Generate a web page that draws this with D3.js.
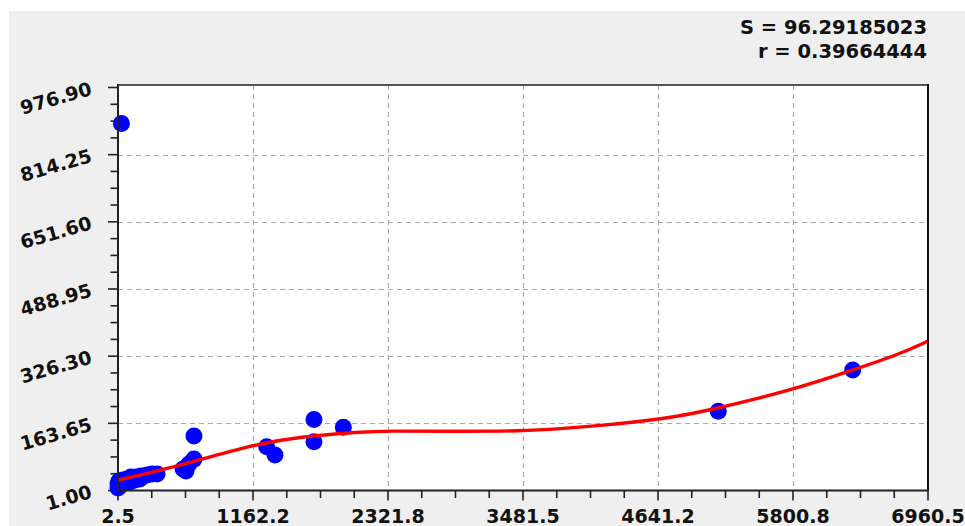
<!DOCTYPE html>
<html>
<head>
<meta charset="utf-8">
<script src="https://cdn.jsdelivr.net/npm/d3@7"></script>
<style>
  html, body { margin: 0; padding: 0; background: #ffffff; }
  svg { display: block; }
  text { font-family: "DejaVu Sans", Verdana, sans-serif; font-weight: bold; fill: #111; }
</style>
</head>
<body>
<svg id="chart" width="965" height="526"></svg>
<script>
// Observed points
const xValues = [2.5, 11, 45, 80, 114, 157, 200, 252, 295, 338, 20, 63, 106, 149, 191, 2.5,
                 32, 561, 587, 612, 655, 655, 1280, 1351, 1686, 1686, 1938, 5159, 6314];
const yValues = [16.7, 24, 26.4, 28.8, 33.7, 33.7, 36, 38.5, 41, 41, 11.9, 19.2, 21.6, 26.4, 28.8, 7,
                 890, 53, 48, 65, 77, 133, 107, 87, 173, 119, 154, 193, 293];

// Fitted regression curve, sampled along x
const fitX = [2.5, 449, 1162, 1566, 2081, 2322, 2900, 3481.5, 3799, 4143, 4658, 5002, 5801, 6316, 6720, 6960.5];
const fitY = [26.4, 54, 113, 131, 143, 145.5, 144, 145, 150.6, 158, 173.4, 189.4, 244.4, 292.8, 331.5, 363];

// Axis ticks
const xTickValues = [2.5, 1162.17, 2321.83, 3481.5, 4641.17, 5800.83, 6960.5];
const xTickLabels = ["2.5", "1162.2", "2321.8", "3481.5", "4641.2", "5800.8", "6960.5"];
const yTickValues = [1.0, 163.65, 326.3, 488.95, 651.6, 814.25, 976.9];
const yTickLabels = ["1.00", "163.65", "326.30", "488.95", "651.60", "814.25", "976.90"];

// Fit statistics
const statLines = ["S = 96.29185023", "r = 0.39664444"];

const svg = d3.select("#chart");

// Panel background
svg.append("rect").attr("x", 9).attr("y", 11).attr("width", 956).attr("height", 515).attr("fill", "#efefef");

const pL = 118, pR = 928, pT = 85, pB = 490.5;
const x = d3.scaleLinear().domain([2.5, 6960.5]).range([pL, pR]);
const y = d3.scaleLinear().domain([1.0, 976.9]).range([pB, 87.5]);

// Plot area
svg.append("rect").attr("x", pL).attr("y", pT).attr("width", pR - pL).attr("height", pB - pT).attr("fill", "#ffffff");

// Grid
const grid = svg.append("g").attr("stroke", "#a8a8a8").attr("stroke-width", 1.2).attr("stroke-dasharray", "5,4");
grid.selectAll("line.v").data(xTickValues.slice(1, -1)).join("line")
  .attr("x1", d => Math.round(x(d)) + 0.5).attr("x2", d => Math.round(x(d)) + 0.5)
  .attr("y1", pT).attr("y2", pB);
grid.selectAll("line.h").data(yTickValues.slice(1, -1)).join("line")
  .attr("x1", pL).attr("x2", pR)
  .attr("y1", d => Math.round(y(d)) + 0.5).attr("y2", d => Math.round(y(d)) + 0.5);

// Minor + major ticks
const xStep = (xTickValues[1] - xTickValues[0]) / 4;
const xMinor = d3.range(0, 25).map(i => 2.5 + i * xStep);
const yStep = 162.65 / 4;
const yMinor = d3.range(0, 25).map(i => 1.0 + i * yStep);

const ticks = svg.append("g").attr("stroke", "#222").attr("stroke-width", 1.6);
ticks.selectAll("line.xt").data(xMinor).join("line")
  .attr("x1", d => x(d)).attr("x2", d => x(d))
  .attr("y1", pB).attr("y2", (d, i) => pB + (i % 4 === 0 ? 10 : 7.5));
ticks.selectAll("line.yt").data(yMinor).join("line")
  .attr("y1", d => y(d)).attr("y2", d => y(d))
  .attr("x1", pL).attr("x2", (d, i) => pL - (i % 4 === 0 ? 10 : 7.5));

// Points
svg.append("g").selectAll("circle").data(xValues.map((v, i) => [v, yValues[i]])).join("circle")
  .attr("cx", d => x(d[0])).attr("cy", d => y(d[1])).attr("r", 8.5).attr("fill", "#0000ff");

// Regression curve
const line = d3.line().x(d => x(d[0])).y(d => y(d[1])).curve(d3.curveBasis);
svg.append("path").datum(fitX.map((v, i) => [v, fitY[i]]))
  .attr("d", line).attr("fill", "none").attr("stroke", "#ff0000").attr("stroke-width", 3.4);

// Frame
svg.append("line").attr("x1", pL).attr("x2", pR).attr("y1", pT).attr("y2", pT).attr("stroke", "#555").attr("stroke-width", 2);
svg.append("line").attr("x1", pR).attr("x2", pR).attr("y1", pT - 1).attr("y2", pB).attr("stroke", "#111").attr("stroke-width", 2);
svg.append("line").attr("x1", pL).attr("x2", pL).attr("y1", pT - 1).attr("y2", pB + 1).attr("stroke", "#222").attr("stroke-width", 2);
svg.append("line").attr("x1", pL - 1).attr("x2", pR + 1).attr("y1", pB).attr("y2", pB).attr("stroke", "#222").attr("stroke-width", 2);

// X labels
svg.append("g").selectAll("text").data(xTickValues).join("text")
  .attr("x", d => x(d)).attr("y", 523).attr("text-anchor", "middle").attr("font-size", 19)
  .text((d, i) => xTickLabels[i]);

// Y labels (slanted)
svg.append("g").selectAll("text").data(yTickValues).join("text")
  .attr("transform", d => `translate(93,${y(d) + 7}) rotate(-16)`)
  .attr("text-anchor", "end").attr("font-size", 19)
  .text((d, i) => yTickLabels[i]);

// Statistics
svg.append("g").selectAll("text").data(statLines).join("text")
  .attr("x", 927).attr("y", (d, i) => 34 + i * 24).attr("text-anchor", "end").attr("font-size", 19.5)
  .text(d => d);
</script>
</body>
</html>
